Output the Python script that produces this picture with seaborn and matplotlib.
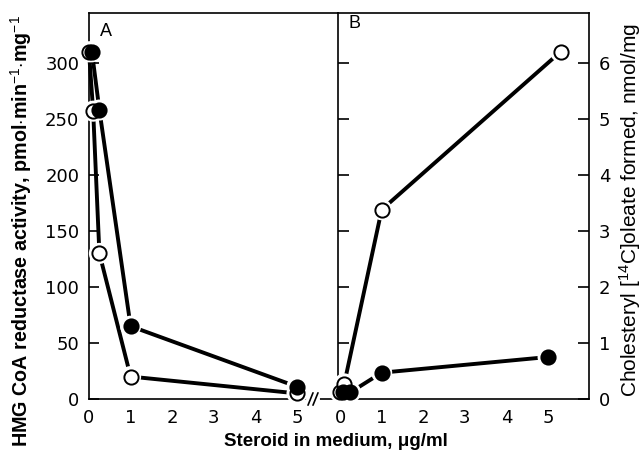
import matplotlib
matplotlib.use("Agg")
import matplotlib.pyplot as plt
import seaborn as sns
import pandas as pd

sns.set_theme(style="white")
plt.rcParams['font.family'] = ['Liberation Sans', 'DejaVu Sans']
plt.rcParams['mathtext.fontset'] = 'custom'
plt.rcParams['mathtext.rm'] = 'Liberation Sans'
plt.rcParams['mathtext.it'] = 'Liberation Sans:italic'
plt.rcParams['mathtext.bf'] = 'Liberation Sans:bold'
plt.rcParams['text.color'] = 'black'
plt.rcParams['axes.labelcolor'] = 'black'
plt.rcParams['xtick.color'] = 'black'
plt.rcParams['ytick.color'] = 'black'

# ---- data (panel A: HMG CoA reductase activity) ----
a_filled_x = [0.07, 0.25, 1.0, 5.0]
a_filled_y = [310, 258, 65, 11]
a_open_x = [0.0, 0.1, 0.25, 1.0, 5.0]
a_open_y = [310, 257, 130, 20, 5]

# ---- data (panel B: cholesteryl [14C]oleate formed) ----
b_filled_x = [0.07, 0.25, 1.0, 5.0]
b_filled_y = [0.12, 0.12, 0.47, 0.75]
b_open_x = [0.0, 0.1, 1.0, 5.3]
b_open_y = [0.12, 0.27, 3.38, 6.2]

a_xticks = [0, 1, 2, 3, 4, 5]
a_yticks = [0, 50, 100, 150, 200, 250, 300]
b_xticks = [0, 1, 2, 3, 4, 5]
b_yticks = [0, 1, 2, 3, 4, 5, 6]

W, H = 642, 454
fig = plt.figure(figsize=(W / 100, H / 100), dpi=100)
left_a, right_a, right_b = 89, 338, 589
top, bottom = 13, 399
axA = fig.add_axes([left_a / W, 1 - bottom / H, (right_a - left_a) / W, (bottom - top) / H])
axB = fig.add_axes([right_a / W, 1 - bottom / H, (right_b - right_a) / W, (bottom - top) / H])

LW = 2.8
MS = 105
HALO = 230


def draw(ax, x, y):
    df = pd.DataFrame({"x": x, "y": y})
    sns.lineplot(data=df, x="x", y="y", ax=ax, color="black", lw=LW, sort=False,
                 clip_on=False, zorder=2)
    sns.scatterplot(data=df, x="x", y="y", ax=ax, s=HALO, color="white",
                    edgecolor="none", clip_on=False, zorder=3)


def marks(ax, x, y, filled):
    df = pd.DataFrame({"x": x, "y": y})
    sns.scatterplot(data=df, x="x", y="y", ax=ax, s=MS,
                    color="black" if filled else "white",
                    edgecolor="black", linewidth=1.4, clip_on=False, zorder=4)


draw(axA, a_open_x, a_open_y)
draw(axA, a_filled_x, a_filled_y)
marks(axA, a_open_x, a_open_y, False)
marks(axA, a_filled_x, a_filled_y, True)

draw(axB, b_open_x, b_open_y)
draw(axB, b_filled_x, b_filled_y)
marks(axB, b_open_x, b_open_y, False)
marks(axB, b_filled_x, b_filled_y, True)

axA.set_xlim(0, (right_a - left_a) / 41.6)
axA.set_ylim(0, (bottom - top) / 1.12)
axB.set_xlim(-0.05, (right_b - right_a) / 41.6 - 0.05)
axB.set_ylim(0, (bottom - top) / 56.0)

for ax in (axA, axB):
    for s in ax.spines.values():
        s.set_color("black")
        s.set_linewidth(1.2)
    ax.set_xlabel("")
    ax.set_ylabel("")
    ax.tick_params(direction="in", length=7, width=1.2, colors="black",
                   labelsize=13, pad=7)

axA.spines["right"].set_visible(False)
axA.set_xticks(a_xticks)
axA.set_yticks(a_yticks)
axA.set_yticklabels([str(v) for v in a_yticks], family="DejaVu Sans")
axA.set_xticklabels([str(v) for v in a_xticks], family="DejaVu Sans")
axA.tick_params(axis="y", left=True, right=False)

axB.set_xticks(b_xticks)
axB.set_yticks(b_yticks)
axB.tick_params(axis="y", left=True, right=True, labelleft=False, labelright=True,
                length=8)
axB.set_xticklabels([str(v) for v in b_xticks], family="DejaVu Sans")
axB.set_yticklabels([str(v) for v in b_yticks], family="DejaVu Sans")

axA.set_ylabel(r"HMG CoA reductase activity, pmol$\cdot$min$^{-1}$$\cdot$mg$^{-1}$",
               fontsize=14.2, fontweight="bold", va="center", ha="center", color="black")
axA.yaxis.set_label_coords((21 - left_a) / (right_a - left_a), (bottom - 231) / (bottom - top))
axB.yaxis.set_label_position("right")
axB.set_ylabel(r"Cholesteryl [$^{14}$C]oleate formed, nmol/mg", fontsize=15,
               va="center", ha="center", rotation=90, color="black")
axB.yaxis.set_label_coords((630 - right_a) / (right_b - right_a), (bottom - 210) / (bottom - top))

fig.text(336 / W, 1 - 441 / H, "Steroid in medium, \u03bcg/ml", ha="center", va="center",
         fontsize=13.5, fontweight="bold", color="black")

axA.text((106 - left_a) / (right_a - left_a), (bottom - 32) / (bottom - top), "A",
         transform=axA.transAxes, ha="center", va="center", fontsize=13, color="black")
axB.text((355 - right_a) / (right_b - right_a), (bottom - 24) / (bottom - top), "B",
         transform=axB.transAxes, ha="center", va="center", fontsize=13, color="black")

# axis break marks on the bottom axis of panel A
bx = (313 - left_a) / (right_a - left_a)
axA.plot([bx - 0.022, bx + 0.022], [0, 0], transform=axA.transAxes, color="white",
         lw=3, clip_on=False, zorder=4.5)
for dx in (-0.01, 0.01):
    axA.plot([bx + dx - 0.01, bx + dx + 0.01], [-0.016, 0.016], transform=axA.transAxes,
             color="black", lw=1.2, clip_on=False, zorder=5)

fig.savefig("out.png", dpi=100, facecolor="white")
